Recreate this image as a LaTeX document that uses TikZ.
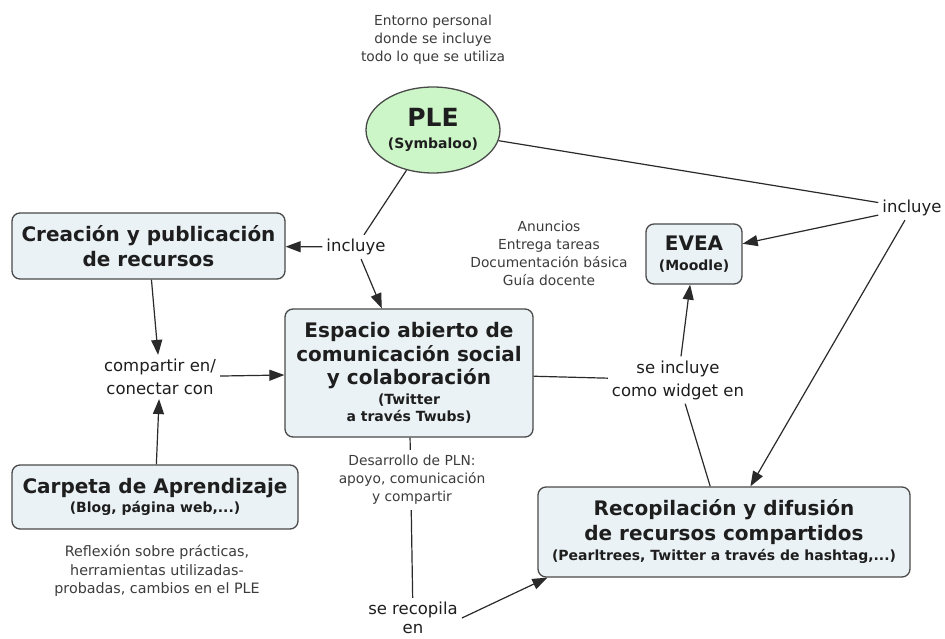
\documentclass[tikz,border=0pt]{standalone}
\usepackage{fontspec}
\setmainfont{DejaVu Sans}
\usetikzlibrary{arrows.meta,shapes.geometric}
\definecolor{boxfill}{HTML}{EAF2F5}
\definecolor{plefill}{HTML}{CCF5C8}
\definecolor{bordercol}{HTML}{4A4A4A}
\definecolor{linecol}{HTML}{2A2A2A}
\definecolor{txtcol}{HTML}{1E1E1E}
\definecolor{notecol}{HTML}{3C3C3C}
\tikzset{
  concept/.style={draw=bordercol, line width=1.3pt, rounded corners=8pt, fill=boxfill,
    align=center, inner sep=0pt, text=txtcol, font=\bfseries\fontsize{20}{24.5}\selectfont},
  linkph/.style={align=center, text=txtcol, inner sep=4pt, font=\fontsize{16.5}{23}\selectfont},
  note/.style={align=center, text=notecol, inner sep=2pt, font=\fontsize{13.8}{18}\selectfont},
  conn/.style={draw=linecol, line width=1.2pt},
  arr/.style={conn, -{Triangle[length=15pt,width=11pt]}},
}
\newcommand{\subt}[1]{{\bfseries\fontsize{14}{16}\selectfont #1}}
\begin{document}
\begin{tikzpicture}[x=1pt,y=-1pt]
\useasboundingbox (0,0) rectangle (945,639);
\fill[white] (0,0) rectangle (945,639);

% notes
\node[note] (env) at (433,40) {Entorno personal\\donde se incluye\\todo lo que se utiliza};
\node[note] (anun) at (549,253) {Anuncios\\Entrega tareas\\Documentación básica\\Guía docente};
\node[note, font=\fontsize{14.3}{18.5}\selectfont] (refl) at (157,571) {Reflexión sobre prácticas,\\herramientas utilizadas-\\probadas, cambios en el PLE};

% concepts
\node[ellipse, draw=bordercol, line width=1.3pt, fill=plefill, minimum width=134pt, minimum height=86pt,
  inner sep=0pt, align=center, text=txtcol, font=\bfseries\fontsize{25}{28}\selectfont] (ple) at (433,130)
  {PLE\\[-6pt]\subt{(Symbaloo)}};

\node[concept, minimum width=273pt, minimum height=66pt] (crea) at (148.5,246)
  {Creación y publicación\\de recursos};

\node[concept, minimum width=248pt, minimum height=128pt, font=\bfseries\fontsize{20}{23.5}\selectfont] (esp) at (409,373)
  {Espacio abierto de\\comunicación social\\y colaboración\\[-4pt]\subt{(Twitter}\\[-6pt]\subt{a través Twubs)}};

\node[concept, minimum width=286pt, minimum height=64pt] (carp) at (155,497)
  {Carpeta de Aprendizaje\\[-5pt]\subt{(Blog, página web,...)}};

\node[concept, minimum width=96pt, minimum height=60pt] (evea) at (694,254)
  {EVEA\\[-5pt]\subt{(Moodle)}};

\node[concept, minimum width=372pt, minimum height=90pt] (recbox) at (724,532)
  {Recopilación y difusión\\de recursos compartidos\\[-4pt]\subt{(Pearltrees, Twitter a través de hashtag,...)}};

% linking phrases
\node[linkph] (incl1) at (356,247) {incluye};
\node[linkph] (incl2) at (912,208) {incluye};
\node[linkph] (comp) at (160,377) {compartir en/\\conectar con};
\node[linkph] (widget) at (678,380) {se incluye\\como widget en};
\node[linkph, font=\fontsize{16.5}{19}\selectfont] (recop) at (413,618) {se recopila\\en};

% connectors
\draw[conn] (ple) -- (incl1);
\draw[arr] (incl1) -- (crea);
\draw[arr] (incl1) -- (esp);
\draw[arr] (crea) -- (comp);
\draw[arr] (comp) -- (esp);
\draw[arr] (carp) -- (comp);
\draw[conn] (ple) -- (incl2);
\draw[arr] (incl2) -- (evea);
\draw[arr] (incl2) -- (recbox);
\draw[conn] (esp) -- (widget);
\draw[arr] (widget) -- (evea);
\draw[conn] (recbox) -- (widget);
\draw[conn] (esp) -- (recop);
\draw[arr] (recop.east) -- ([xshift=10pt]recbox.south west);

% note over the connector
\node[note, fill=white, inner sep=5pt] (desa) at (412,480) {Desarrollo de PLN:\\apoyo, comunicación\\y compartir};
\end{tikzpicture}
\end{document}
